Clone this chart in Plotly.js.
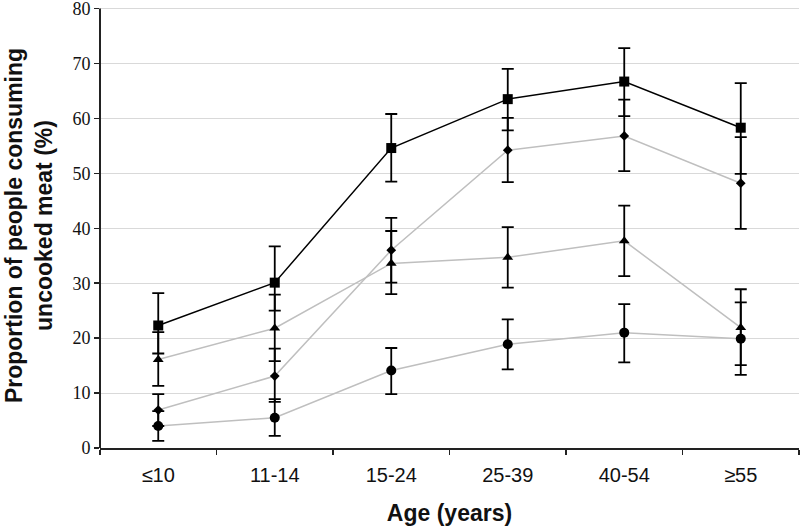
<!DOCTYPE html>
<html>
<head>
<meta charset="utf-8">
<script src="https://cdn.plot.ly/plotly-3.0.1.min.js"></script>
<style>html,body{margin:0;padding:0;background:#fff;}#chart{width:800px;height:529px;}</style>
</head>
<body>
<div id="chart"></div>
<script>
const ageGroups = ["≤10", "11-14", "15-24", "25-39", "40-54", "≥55"];
const yTickVals = [0, 10, 20, 30, 40, 50, 60, 70, 80];

const squareVals  = [22.3, 30.1, 54.6, 63.5, 66.7, 58.3];
const squarePlus  = [5.9, 6.6, 6.2, 5.5, 6.1, 8.1];
const squareMinus = [5.1, 5.1, 6.1, 5.7, 6.3, 8.4];

const triangleVals  = [16.1, 21.8, 33.6, 34.7, 37.7, 21.9];
const trianglePlus  = [5.0, 6.1, 5.9, 5.5, 6.4, 7.0];
const triangleMinus = [4.8, 6.0, 5.6, 5.5, 6.4, 6.8];

const diamondVals  = [6.9, 13.1, 36.0, 54.2, 56.8, 48.2];
const diamondPlus  = [2.9, 5.0, 5.9, 5.9, 6.6, 8.4];
const diamondMinus = [2.9, 4.7, 5.9, 5.8, 6.4, 8.3];

const circleVals  = [4.0, 5.5, 14.1, 18.9, 21.0, 19.9];
const circlePlus  = [2.7, 3.4, 4.1, 4.5, 5.2, 6.6];
const circleMinus = [2.7, 3.3, 4.3, 4.6, 5.4, 6.6];

function series(vals, plus, minus, symbol, size, lineColor) {
  return {
    type: "scatter",
    mode: "lines+markers",
    x: ageGroups,
    y: vals,
    line: {color: lineColor, width: 1.5},
    marker: {symbol: symbol, size: size, color: "#000"},
    error_y: {type: "data", symmetric: false, array: plus, arrayminus: minus,
              color: "#000", thickness: 1.8, width: 6},
    showlegend: false,
    hoverinfo: "skip"
  };
}

const traces = [
  series(circleVals, circlePlus, circleMinus, "circle", 10, "#bfbfbf"),
  series(diamondVals, diamondPlus, diamondMinus, "diamond", 7.5, "#bfbfbf"),
  series(triangleVals, trianglePlus, triangleMinus, "triangle-up", 9.5, "#bfbfbf"),
  series(squareVals, squarePlus, squareMinus, "square", 10, "#000")
];

const layout = {
  width: 800, height: 529,
  margin: {l: 100, r: 1, t: 2.5, b: 81},
  paper_bgcolor: "#fff", plot_bgcolor: "#fff",
  xaxis: {
    type: "category",
    range: [-0.5, 5.5],
    tickson: "boundaries",
    ticks: "outside", ticklen: 5, tickwidth: 1.5, tickcolor: "#222",
    showline: true, linecolor: "#222", linewidth: 2,
    showgrid: false, zeroline: false,
    ticklabelstandoff: 8,
    tickfont: {family: "Liberation Sans, Arial, sans-serif", size: 20, color: "#111"},
    title: {text: "Age (years)", font: {family: "Liberation Sans, Arial, sans-serif", size: 23, color: "#111", weight: "bold"}, standoff: 20}
  },
  yaxis: {
    range: [0, 81],
    tickmode: "array",
    tickvals: yTickVals,
    ticktext: yTickVals.map(String),
    ticklabeloverflow: "allow",
    ticklabelshift: 2.5,
    ticks: "outside", ticklen: 5, tickwidth: 1.5, tickcolor: "#222",
    showline: false,
    showgrid: true, gridcolor: "#d9d9d9", gridwidth: 1,
    zeroline: false,
    tickfont: {family: "Liberation Serif, Times New Roman, serif", size: 18, color: "#111"},
    title: {text: "Proportion of people consuming<br>uncooked meat (%)", font: {family: "Liberation Sans, Arial, sans-serif", size: 23, color: "#111", weight: "bold"}, standoff: 13}
  },
  shapes: [
    {type: "line", xref: "paper", yref: "y", x0: 0, x1: 0, y0: -0.9, y1: 80, line: {color: "#222", width: 2}}
  ]
};

Plotly.newPlot("chart", traces, layout, {staticPlot: true, displayModeBar: false});
</script>
</body>
</html>
